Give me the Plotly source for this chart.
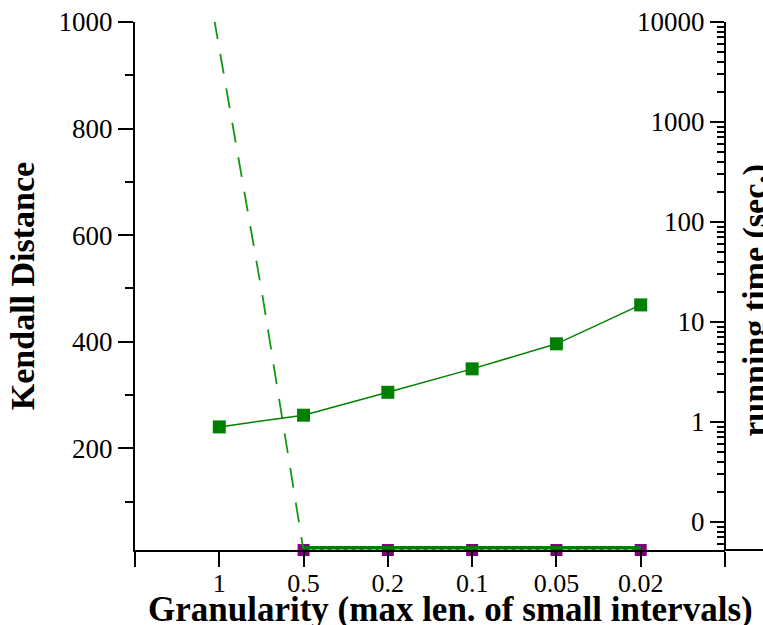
import plotly.graph_objects as go

# ---- data ----
categories = ["1", "0.5", "0.2", "0.1", "0.05", "0.02"]
cat_pos = [0, 1, 2, 3, 4, 5]

kendall_main = [240, 262, 305, 349, 396, 469]          # green squares, thin solid line

dashed_pos = [-0.06, 0.52, 0.995]                        # green dashed line (positions along x)
dashed_vals = [1005, 479, 12]

bottom_green_pos = [1, 2, 3, 4, 5]
bottom_green_vals = [13, 13, 13, 13, 13]                 # thick green line at bottom

purple_pos = [1, 2, 3, 4, 5]
purple_vals = [9, 9, 9, 9, 9]                            # purple squares at bottom

left_ticks = [200, 400, 600, 800, 1000]
left_minor = [100, 300, 500, 700, 900]
right_ticks = [0.1, 1, 10, 100, 1000, 10000]
right_ticktext = ["0", "1", "10", "100", "1000", "10000"]

FONT = "Liberation Serif"
TICK = 27
TITLE = 34

fig = go.Figure()

fig.add_trace(go.Scatter(
    x=purple_pos, y=purple_vals, mode="lines+markers",
    line=dict(color="#800080", width=1.5, dash="4px,4px"),
    marker=dict(symbol="square", size=12, color="#800080"),
    cliponaxis=False, showlegend=False))

fig.add_trace(go.Scatter(
    x=bottom_green_pos, y=bottom_green_vals, mode="lines",
    line=dict(color="#008000", width=3.5),
    showlegend=False))

fig.add_trace(go.Scatter(
    x=dashed_pos, y=dashed_vals, mode="lines",
    line=dict(color="#119911", width=1.8, dash="20px,15px"),
    showlegend=False))

fig.add_trace(go.Scatter(
    x=cat_pos, y=kendall_main, mode="lines+markers",
    line=dict(color="#008000", width=1.5),
    marker=dict(symbol="square", size=13, color="#008000"),
    showlegend=False))

# dummy trace to activate right axis
fig.add_trace(go.Scatter(x=[None], y=[None], yaxis="y2", showlegend=False))

xt = [-1] + cat_pos + [6]
xtt = [""] + categories + [""]

fig.update_layout(
    width=763, height=625,
    margin=dict(l=135, r=38, t=22, b=75),
    plot_bgcolor="white", paper_bgcolor="white",
    font=dict(family=FONT, size=TICK, color="black"),
    xaxis=dict(
        domain=[0, 1], automargin=False,
        range=[-1, 6], tickmode="array", tickvals=xt, ticktext=xtt,
        showgrid=False, zeroline=False, showline=True, linecolor="black", linewidth=2,
        ticks="outside", ticklen=15, tickwidth=2, tickcolor="black",
        ticklabelstandoff=-6,
        tickfont=dict(family=FONT, size=TICK - 1),
    ),
    yaxis=dict(
        automargin=False,
        range=[9, 1000], tickmode="array", tickvals=left_ticks,
        showgrid=False, zeroline=False, showline=True, linecolor="black", linewidth=2,
        ticks="outside", ticklen=15, tickwidth=2, tickcolor="black",
        tickfont=dict(family=FONT, size=TICK),
        minor=dict(tickmode="array", tickvals=left_minor, ticks="outside",
                   ticklen=8, tickwidth=2, tickcolor="black", showgrid=False),
        title=dict(text="<b>Kendall Distance</b>", font=dict(family=FONT, size=TITLE), standoff=14),
    ),
    yaxis2=dict(
        automargin=False,
        type="log", range=[-1.28, 4], overlaying="y", anchor="free", position=1.0, side="left",
        tickmode="array", tickvals=right_ticks, ticktext=right_ticktext,
        showgrid=False, zeroline=False, showline=True, linecolor="black", linewidth=2,
        ticks="outside", ticklen=14, tickwidth=2, tickcolor="black",
        tickfont=dict(family=FONT, size=TICK),
        minor=dict(ticks="outside", ticklen=7, tickwidth=1.5, tickcolor="black",
                   dtick="D1", showgrid=False),
    ),
    shapes=[
        dict(type="line", xref="paper", yref="paper", x0=1, x1=1.07, y0=0, y1=0,
             line=dict(color="black", width=2)),
    ],
    annotations=[
        dict(text="<b>Granularity (max len. of small intervals)</b>", xref="paper", yref="paper",
             x=0.535, y=-0.112, xanchor="center", yanchor="middle",
             showarrow=False, font=dict(family=FONT, size=TITLE + 1, color="black")),
        dict(text="<b>running time (sec.)</b>", xref="paper", yref="paper",
             x=1.015, y=0.4735, xanchor="left", yanchor="middle", textangle=-90,
             showarrow=False, font=dict(family=FONT, size=TITLE, color="black")),
    ],
)

fig.write_html("out.html")
